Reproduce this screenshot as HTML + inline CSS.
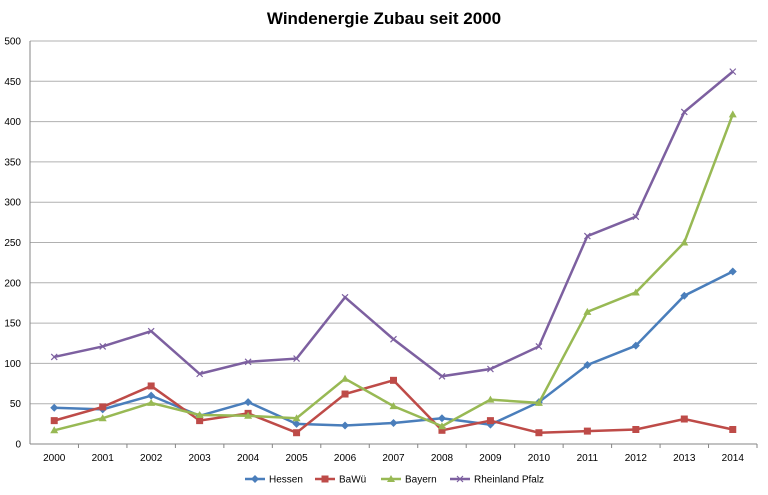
<!DOCTYPE html>
<html><head><meta charset="utf-8"><style>
body{margin:0;background:#fff;font-family:"Liberation Sans",sans-serif}
</style></head><body>
<svg id="c" width="768" height="490" xmlns="http://www.w3.org/2000/svg"></svg>
<script>
const years=[2000,2001,2002,2003,2004,2005,2006,2007,2008,2009,2010,2011,2012,2013,2014];
const hessen=[45,43,60,35,52,25,23,26,32,24,52,98,122,184,214];
const bawue=[29,46,72,29,38,14,62,79,17,29,14,16,18,31,18];
const bayern=[17,32,51,36,35,32,81,47,22,55,51,164,188,250,409];
const rlp=[108,121,140,87,102,106,182,130,84,93,121,258,282,412,462];
const yTicks=[0,50,100,150,200,250,300,350,400,450,500];
const seriesNames=["Hessen","BaWü","Bayern","Rheinland Pfalz"];
const NS="http://www.w3.org/2000/svg";
const svg=document.getElementById('c');
const x0=30,x1=757,yTop=41,yBot=444;
const step=(x1-x0)/years.length;
function X(i){return x0+step*(i+0.5);}
function Y(v){return yBot-(v/500)*(yBot-yTop);}
function mk(t,a,p){const e=document.createElementNS(NS,t);for(const k in a)e.setAttribute(k,a[k]);(p||svg).appendChild(e);return e;}
let t=mk('text',{x:384,y:24,'text-anchor':'middle','font-size':17,'font-weight':'bold',fill:'#000'});t.textContent='Windenergie Zubau seit 2000';


yTicks.forEach(v=>{
 const l=mk('line',{x1:x0,x2:x1,y1:Y(v),y2:Y(v),stroke:v===0?'#868686':'#b0b0b0','stroke-width':1});
 
 
 const tx=mk('text',{x:21,y:Y(v)+3.5,'text-anchor':'end','font-size':10,fill:'#000'});tx.textContent=v;
 
 
});
mk('line',{x1:x0,x2:x0,y1:yTop,y2:yBot,stroke:'#868686'});
years.forEach((y,i)=>{
 const tx=mk('text',{x:X(i),y:461,'text-anchor':'middle','font-size':10,fill:'#000'});tx.textContent=y;
 
 
 mk('line',{x1:x0+step*(i+1),x2:x0+step*(i+1),y1:yBot,y2:yBot+4,stroke:'#868686'});
});
const colors=['#4a7ebb','#be4b48','#98b954','#7d60a0'];
function marker(g,k,x,y){
 const c=colors[k];
 if(k===0)mk('path',{d:`M${x} ${y-4}L${x+4} ${y}L${x} ${y+4}L${x-4} ${y}Z`,fill:c},g);
 else if(k===1)mk('rect',{x:x-3.5,y:y-3.5,width:7,height:7,fill:c},g);
 else if(k===2)mk('path',{d:`M${x} ${y-4}L${x+4} ${y+3}L${x-4} ${y+3}Z`,fill:c},g);
 else mk('path',{d:`M${x-3} ${y-3}L${x+3} ${y+3}M${x-3} ${y+3}L${x+3} ${y-3}`,stroke:c,'stroke-width':1.2},g);
}
[hessen,bawue,bayern,rlp].forEach((d,k)=>{
 const g=mk('g',{});
 
 
 mk('polyline',{points:d.map((v,i)=>X(i)+','+Y(v)).join(' '),fill:'none',stroke:colors[k],'stroke-width':2.5},g);
 d.forEach((v,i)=>marker(g,k,X(i),Y(v)));
});
const lx=[245,315,381,450];
seriesNames.forEach((n,k)=>{
 const g=mk('g',{});
 
 
 mk('line',{x1:lx[k],x2:lx[k]+20,y1:479,y2:479,stroke:colors[k],'stroke-width':2.5},g);
 marker(g,k,lx[k]+10,479);
 const tx=mk('text',{x:lx[k]+24,y:482.5,'font-size':10,fill:'#000'},g);tx.textContent=n;
});
</script>
</body></html>
